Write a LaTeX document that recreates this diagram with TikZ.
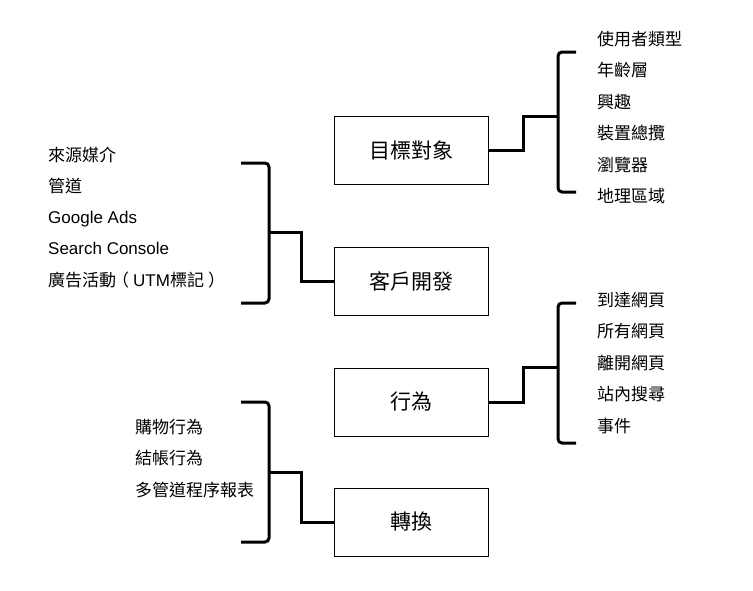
\documentclass[tikz,border=0pt]{standalone}
\usepackage{fontspec}
\setmainfont{Liberation Sans}
\newfontfamily\cjk{Noto Sans CJK TC}
\begin{document}
\begin{tikzpicture}[x=1pt,y=-1pt,
    topic/.style={draw,line width=1pt,minimum width=154pt,minimum height=68pt,
      inner sep=0pt,font=\fontsize{21}{21}\cjk},
    item/.style={anchor=west,inner sep=0pt,text height=15pt,text depth=2pt,
      font=\fontsize{17}{17}\selectfont},
    brace/.style={line width=3pt,rounded corners=4pt},
    link/.style={line width=3pt}]
  \useasboundingbox[fill=white] (0,0) rectangle (753,590);
  % boxes
  \node[topic] (goal) at (411,150) {目標對象};
  \node[topic] (acq) at (411,281) {客戶開發};
  \node[topic] (beh) at (411,402) {行為};
  \node[topic] (conv) at (411,522) {轉換};
  % right lists
  \foreach \t [count=\i] in {使用者類型,年齡層,興趣,裝置總攬,瀏覽器,地理區域}
    \node[item] (g\i) at (597,39+31.4*\i-31.4) {\cjk \t};
  \foreach \t [count=\i] in {到達網頁,所有網頁,離開網頁,站內搜尋,事件}
    \node[item] (b\i) at (597,300+31.4*\i-31.4) {\cjk \t};
  % left lists
  \node[item] (a1) at (48,155) {\cjk 來源媒介};
  \node[item] (a2) at (48,186) {\cjk 管道};
  \node[item] (a3) at (48,217) {Google Ads};
  \node[item] (a4) at (48,248) {Search Console};
  \node[item] (a5) at (48,280)
    {{\cjk 廣告活動\kern-4pt（\kern4pt}UTM{\cjk 標記\kern4pt）\kern-4pt}};
  \node[item] (c1) at (135,427) {\cjk 購物行為};
  \node[item] (c2) at (135,458) {\cjk 結帳行為};
  \node[item] (c3) at (135,490) {\cjk 多管道程序報表};
  % brackets
  \draw[brace] (576,52) -- (558,52) -- (558,192) -- (576,192);
  \draw[brace] (576,303) -- (558,303) -- (558,443) -- (576,443);
  \draw[brace] (241,163) -- (269,163) -- (269,303) -- (241,303);
  \draw[brace] (241,402) -- (269,402) -- (269,542) -- (241,542);
  \coordinate (gj) at (558,116);
  \coordinate (bj) at (558,367);
  \coordinate (aj) at (269,232);
  \coordinate (cj) at (269,472);
  % connectors
  \draw[link] (goal.east) -- ++(35,0) |- (gj);
  \draw[link] (beh.east) -- ++(35,0) |- (bj);
  \draw[link] (acq.west) -- ++(-32,0) |- (aj);
  \draw[link] (conv.west) -- ++(-32,0) |- (cj);
\end{tikzpicture}
\end{document}
